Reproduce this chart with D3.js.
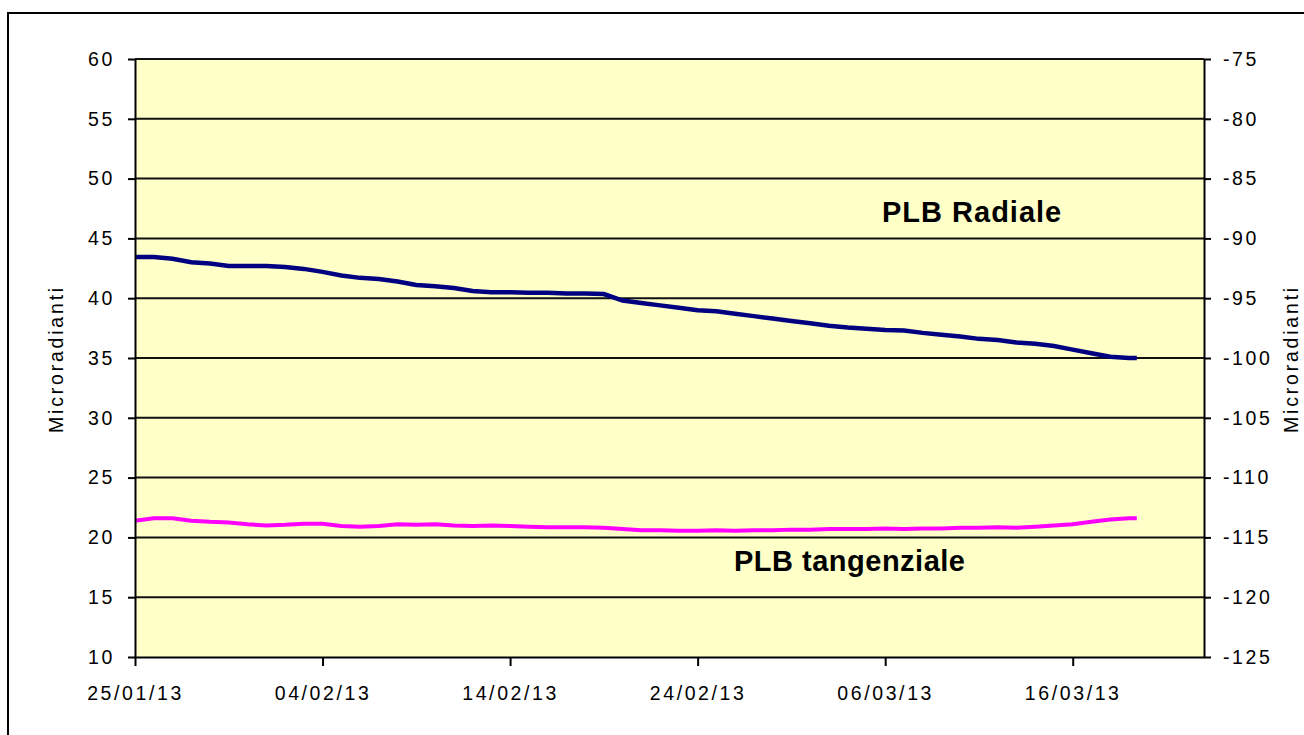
<!DOCTYPE html>
<html>
<head>
<meta charset="utf-8">
<script src="https://cdn.jsdelivr.net/npm/d3@7"></script>
<style>
  body { margin: 0; background: #fff; }
  svg { display: block; }
  .tick text { font-family: "Liberation Sans", Arial, sans-serif; font-size: 19.5px; letter-spacing: 2.6px; fill: #000; }
</style>
</head>
<body>
<svg id="chart" width="1304" height="735"></svg>
<script>
// readings, one a day from 25/01/13, last one on the morning of 19/03/13
var startDay = new Date(2013, 0, 25);
var lastReading = new Date(2013, 2, 19, 10);

var radiale = [43.45, 43.45, 43.3, 43.0, 42.9, 42.7, 42.7, 42.7, 42.6, 42.45,
    42.2, 41.9, 41.7, 41.6, 41.4, 41.1, 41.0, 40.85, 40.6, 40.5,
    40.5, 40.45, 40.45, 40.4, 40.4, 40.35, 39.8, 39.6, 39.4, 39.2,
    39.0, 38.9, 38.7, 38.5, 38.3, 38.1, 37.9, 37.7, 37.55, 37.45,
    37.35, 37.3, 37.1, 36.95, 36.8, 36.6, 36.5, 36.3, 36.2, 36.0,
    35.7, 35.4, 35.1, 35.0, 35.0];

var tangenziale = [21.4, 21.6, 21.6, 21.4, 21.3, 21.25, 21.1, 21.0, 21.05, 21.15,
    21.15, 20.95, 20.9, 20.95, 21.1, 21.05, 21.1, 21.0, 20.95, 21.0,
    20.95, 20.9, 20.85, 20.85, 20.85, 20.8, 20.7, 20.6, 20.6, 20.55,
    20.55, 20.6, 20.55, 20.6, 20.6, 20.65, 20.65, 20.7, 20.7, 20.7,
    20.75, 20.7, 20.75, 20.75, 20.8, 20.8, 20.85, 20.8, 20.9, 21.0,
    21.1, 21.3, 21.5, 21.6, 21.6];

var xTickDates = ["25/01/13", "04/02/13", "14/02/13", "24/02/13", "06/03/13", "16/03/13"];
var leftTicks = [10, 15, 20, 25, 30, 35, 40, 45, 50, 55, 60];
var rightTicks = [-125, -120, -115, -110, -105, -100, -95, -90, -85, -80, -75];

function drawChart() {
    var parseDate = d3.timeParse("%d/%m/%y");
    var dates = d3.timeDays(startDay, d3.timeDay.offset(startDay, radiale.length - 1));
    dates.push(lastReading);

    var svg = d3.select("#chart");
    var plotLeft = 135, plotRight = 1204, plotTop = 59, plotBottom = 657;

    // outer frame
    svg.append("rect")
        .attr("x", 8).attr("y", 13)
        .attr("width", 1310).attr("height", 740)
        .attr("fill", "#fff")
        .attr("stroke", "#000")
        .attr("stroke-width", 2);

    var x = d3.scaleTime()
        .domain([startDay, new Date(2013, 2, 23)])
        .range([plotLeft, plotRight]);
    var y = d3.scaleLinear().domain([10, 60]).range([plotBottom, plotTop]);
    var y2 = d3.scaleLinear().domain([-125, -75]).range([plotBottom, plotTop]);

    svg.append("rect")
        .attr("x", plotLeft).attr("y", plotTop)
        .attr("width", plotRight - plotLeft).attr("height", plotBottom - plotTop)
        .attr("fill", "#FFFFC8");

    // gridlines
    svg.selectAll(".grid")
        .data(leftTicks.slice(1))
        .enter()
        .append("line")
        .attr("class", "grid")
        .attr("x1", plotLeft).attr("x2", plotRight)
        .attr("y1", function (d) { return y(d); })
        .attr("y2", function (d) { return y(d); })
        .attr("stroke", "#111")
        .attr("stroke-width", 2);

    var line = d3.line()
        .x(function (d, i) { return x(dates[i]); })
        .y(function (d) { return y(d); });

    svg.append("path")
        .datum(tangenziale)
        .attr("d", line)
        .attr("fill", "none")
        .attr("stroke", "#FF00FF")
        .attr("stroke-width", 4);

    svg.append("path")
        .datum(radiale)
        .attr("d", line)
        .attr("fill", "none")
        .attr("stroke", "#000080")
        .attr("stroke-width", 4.5);

    // axes
    var xAxis = svg.append("g")
        .attr("transform", "translate(0," + plotBottom + ")")
        .call(d3.axisBottom(x)
            .tickValues(xTickDates.map(parseDate))
            .tickFormat(d3.timeFormat("%d/%m/%y"))
            .tickSizeInner(9).tickSizeOuter(0).tickPadding(14));

    var yAxis = svg.append("g")
        .attr("transform", "translate(" + plotLeft + ",0)")
        .call(d3.axisLeft(y).tickValues(leftTicks).tickSizeInner(7).tickSizeOuter(0).tickPadding(13));

    var yAxis2 = svg.append("g")
        .attr("transform", "translate(" + plotRight + ",0)")
        .call(d3.axisRight(y2).tickValues(rightTicks)
            .tickFormat(function (d) { return "-" + Math.abs(d); })
            .tickSizeInner(7).tickSizeOuter(0).tickPadding(12));

    [xAxis, yAxis, yAxis2].forEach(function (g) {
        g.select(".domain").attr("stroke", "#000").attr("stroke-width", 2);
        g.selectAll(".tick line").attr("stroke", "#000").attr("stroke-width", 2);
    });
    xAxis.selectAll(".tick text").attr("dy", "1em");

    // axis titles
    svg.append("text")
        .attr("transform", "translate(63,359) rotate(-90)")
        .attr("text-anchor", "middle")
        .style("font-family", "Liberation Sans, Arial, sans-serif")
        .style("font-size", "19.5px")
        .style("letter-spacing", "2.8px")
        .text("Microradianti");

    svg.append("text")
        .attr("transform", "translate(1298,359) rotate(-90)")
        .attr("text-anchor", "middle")
        .style("font-family", "Liberation Sans, Arial, sans-serif")
        .style("font-size", "19.5px")
        .style("letter-spacing", "2.8px")
        .text("Microradianti");

    // series labels
    svg.append("text")
        .attr("x", 882).attr("y", 222)
        .style("font-family", "Liberation Sans, Arial, sans-serif")
        .style("font-size", "29px")
        .style("font-weight", "bold")
        .style("letter-spacing", "1px")
        .text("PLB Radiale");

    svg.append("text")
        .attr("x", 734).attr("y", 571)
        .style("font-family", "Liberation Sans, Arial, sans-serif")
        .style("font-size", "29px")
        .style("font-weight", "bold")
        .style("letter-spacing", "0.5px")
        .text("PLB tangenziale");
}

drawChart();
</script>
</body>
</html>
